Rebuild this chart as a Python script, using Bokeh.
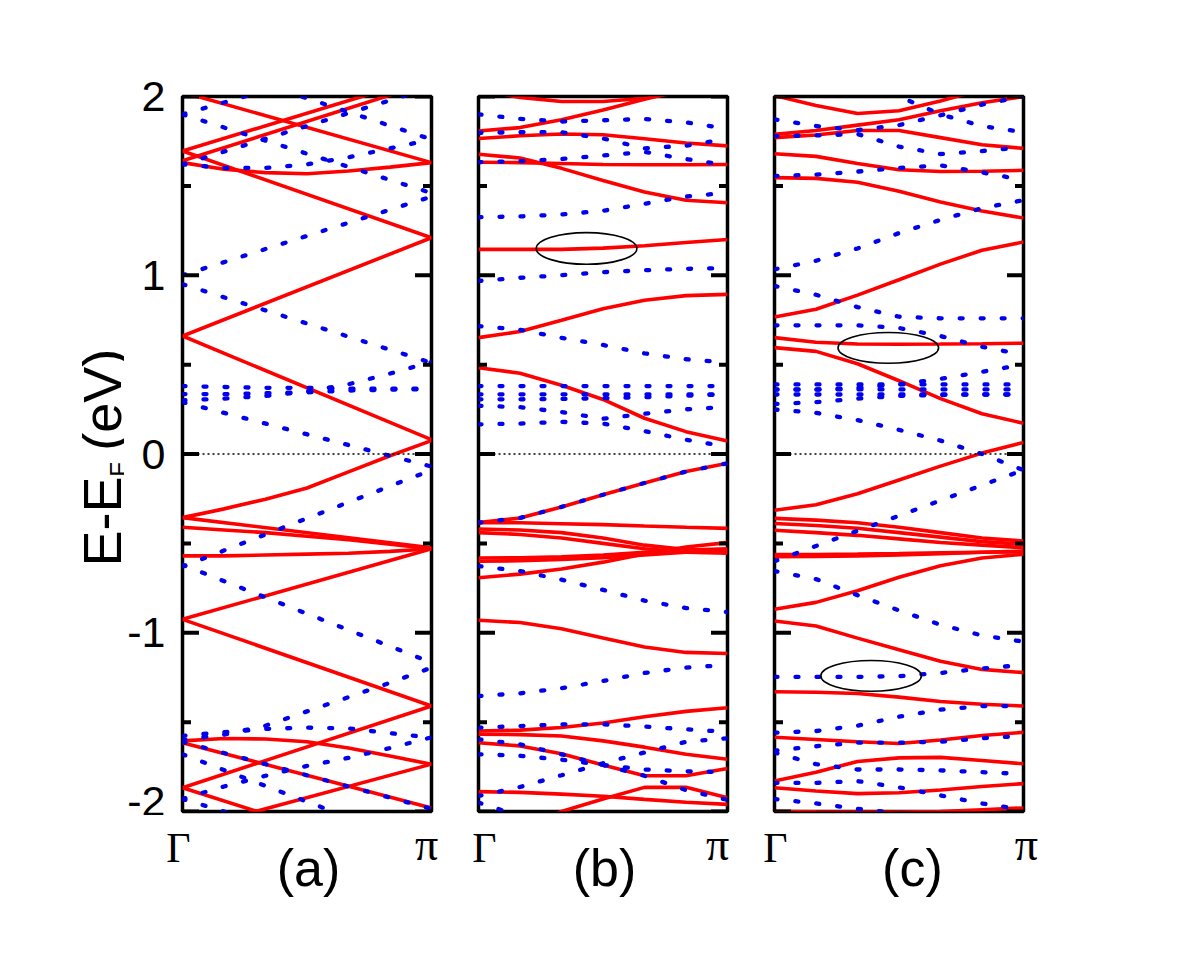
import numpy as np
from bokeh.plotting import figure
from bokeh.layouts import row, column
from bokeh.models import Range1d, FixedTicker, Span
from bokeh.core.properties import value
from bokeh.embed import file_html
from bokeh.resources import INLINE

# ---------------- data: band energies (eV) sampled evenly from Gamma (k=0) to pi (k=1)
A_RED = [
    [2.024, 1.63],
    [1.695, 2.118],
    [1.64, 2.081],
    [1.695, 1.21],
    [1.63, 1.593, 1.574, 1.568, 1.583, 1.605, 1.63],
    [0.66, 1.21],
    [0.66, 0.08],
    [-0.356, -0.307, -0.253, -0.19, -0.10, -0.01, 0.075],
    [-0.356, -0.524],
    [-0.41, -0.425, -0.44, -0.46, -0.48, -0.505, -0.53],
    [-0.57, -0.57, -0.565, -0.56, -0.555, -0.545, -0.53],
    [-0.925, -0.53],
    [-0.925, -1.41],
    [-1.867, -1.41],
    [-1.867, -2.31],
    [-2.11, -1.735],
    [-1.605, -1.592, -1.594, -1.61, -1.645, -1.69, -1.736],
    [-1.615, -1.98],
]
A_BLUE = [
    [1.90, 2.30],
    [1.90, 1.46],
    [1.62, 2.05],
    [2.22, 1.76],
    [1.62, 1.60, 1.60, 1.62, 1.66, 1.71, 1.76],
    [1.0, 1.44],
    [0.95, 0.51],
    [0.30, 0.31, 0.325, 0.35, 0.39, 0.45, 0.515],
    [0.38, 0.375, 0.37, 0.37, 0.365, 0.365, 0.365],
    [0.335, 0.335, 0.34, 0.345, 0.355, 0.36, 0.362],
    [0.29, -0.07],
    [-0.63, -0.09],
    [-0.62, -1.167],
    [-1.60, -1.57, -1.52, -1.44, -1.36, -1.28, -1.195],
    [-1.577, -1.556, -1.538, -1.531, -1.535, -1.562, -1.587],
    [-1.61, -1.985],
    [-1.68, -2.21],
    [-1.93, -1.86, -1.80, -1.745, -1.70, -1.645, -1.585],
    [-1.93, -2.35],
]

B_RED = [
    [2.04, 1.995, 1.972, 1.972, 1.99, 2.03, 2.07],
    [1.807, 1.826, 1.87, 1.925, 1.985, 2.04, 2.09],
    [1.765, 1.78, 1.79, 1.786, 1.764, 1.74, 1.724],
    [1.677, 1.656, 1.598, 1.53, 1.466, 1.42, 1.406],
    [1.632, 1.63, 1.625, 1.62, 1.618, 1.618, 1.62],
    [1.145, 1.145, 1.145, 1.152, 1.165, 1.183, 1.20],
    [0.651, 0.685, 0.748, 0.812, 0.86, 0.886, 0.893],
    [0.483, 0.452, 0.385, 0.305, 0.20, 0.125, 0.073],
    [-0.384, -0.358, -0.296, -0.228, -0.162, -0.098, -0.052],
    [-0.384, -0.385, -0.39, -0.395, -0.403, -0.41, -0.416],
    [-0.42, -0.425, -0.44, -0.47, -0.51, -0.535, -0.54],
    [-0.44, -0.45, -0.47, -0.50, -0.53, -0.55, -0.555],
    [-0.582, -0.58, -0.575, -0.565, -0.55, -0.537, -0.53],
    [-0.60, -0.597, -0.59, -0.58, -0.565, -0.55, -0.545],
    [-0.692, -0.672, -0.643, -0.605, -0.56, -0.52, -0.496],
    [-0.93, -0.943, -0.978, -1.03, -1.08, -1.11, -1.116],
    [-1.55, -1.545, -1.53, -1.505, -1.47, -1.44, -1.42],
    [-1.568, -1.57, -1.578, -1.605, -1.64, -1.68, -1.708],
    [-1.615, -1.633, -1.677, -1.74, -1.80, -1.80, -1.76],
    [-2.2, -2.1, -2.0, -1.93, -1.865, -1.865, -1.923],
    [-1.889, -1.893, -1.903, -1.915, -1.932, -1.948, -1.96],
]
B_BLUE = [
    [1.90, 1.875, 1.86, 1.867, 1.874, 1.855, 1.82],
    [1.797, 1.80, 1.80, 1.765, 1.71, 1.725, 1.764],
    [1.633, 1.638, 1.65, 1.67, 1.69, 1.65, 1.615],
    [1.325, 1.329, 1.34, 1.361, 1.40, 1.44, 1.462],
    [0.968, 0.986, 1.0, 1.017, 1.028, 1.036, 1.04],
    [0.716, 0.695, 0.65, 0.61, 0.563, 0.53, 0.511],
    [0.38, 0.38],
    [0.334, 0.334],
    [0.306, 0.306, 0.308, 0.312, 0.318, 0.326, 0.334],
    [0.27, 0.262, 0.235, 0.197, 0.225, 0.25, 0.263],
    [0.166, 0.17, 0.18, 0.17, 0.128, 0.08, 0.04],
    [-0.384, -0.358, -0.296, -0.228, -0.162, -0.098, -0.052],
    [-0.627, -0.655, -0.703, -0.76, -0.82, -0.862, -0.884],
    [-1.354, -1.339, -1.31, -1.27, -1.225, -1.195, -1.18],
    [-1.531, -1.522, -1.513, -1.512, -1.525, -1.54, -1.555],
    [-1.596, -1.624, -1.68, -1.74, -1.80, -1.88, -1.935],
    [-1.68, -1.688, -1.71, -1.74, -1.765, -1.775, -1.78],
    [-1.913, -1.863, -1.797, -1.73, -1.67, -1.61, -1.59],
    [-1.95, -2.4],
]

C_RED = [
    [2.005, 1.95, 1.905, 1.92, 1.975, 2.04, 2.1],
    [1.788, 1.81, 1.84, 1.87, 1.92, 1.965, 2.0],
    [1.77, 1.785, 1.81, 1.81, 1.77, 1.73, 1.71],
    [1.68, 1.665, 1.625, 1.59, 1.58, 1.582, 1.587],
    [1.546, 1.542, 1.52, 1.47, 1.41, 1.36, 1.32],
    [0.766, 0.81, 0.889, 0.975, 1.062, 1.14, 1.186],
    [0.651, 0.625, 0.615, 0.614, 0.615, 0.617, 0.62],
    [0.595, 0.574, 0.505, 0.41, 0.31, 0.225, 0.172],
    [-0.315, -0.284, -0.222, -0.145, -0.068, 0.005, 0.065],
    [-0.36, -0.37, -0.385, -0.41, -0.44, -0.47, -0.487],
    [-0.389, -0.40, -0.415, -0.44, -0.465, -0.49, -0.505],
    [-0.427, -0.44, -0.455, -0.475, -0.495, -0.51, -0.524],
    [-0.575, -0.573, -0.57, -0.565, -0.558, -0.55, -0.543],
    [-0.563, -0.562, -0.56, -0.557, -0.553, -0.55, -0.548],
    [-0.869, -0.83, -0.765, -0.69, -0.625, -0.582, -0.561],
    [-0.934, -0.962, -1.03, -1.095, -1.16, -1.205, -1.223],
    [-1.33, -1.333, -1.34, -1.36, -1.385, -1.40, -1.41],
    [-1.585, -1.597, -1.61, -1.62, -1.60, -1.575, -1.557],
    [-1.829, -1.78, -1.72, -1.70, -1.697, -1.715, -1.733],
    [-1.867, -1.885, -1.9, -1.895, -1.88, -1.86, -1.844],
    [-2.0, -2.002, -2.003, -2.003, -2.0, -1.99, -1.98],
]
C_BLUE = [
    [1.872, 1.835, 1.812, 1.84, 1.895, 1.955, 2.0],
    [2.3, 2.2, 2.1, 2.0, 1.9, 1.835, 1.80],
    [1.778, 1.782, 1.79, 1.72, 1.678, 1.695, 1.717],
    [1.555, 1.563, 1.58, 1.60, 1.615, 1.575, 1.533],
    [1.033, 1.081, 1.15, 1.236, 1.31, 1.375, 1.42],
    [0.94, 0.891, 0.822, 0.768, 0.759, 0.759, 0.759],
    [0.72, 0.72, 0.72, 0.705, 0.66, 0.60, 0.555],
    [0.36, 0.36, 0.37, 0.39, 0.42, 0.46, 0.50],
    [0.389, 0.389],
    [0.361, 0.361],
    [0.333, 0.333],
    [0.28, 0.29, 0.31, 0.325, 0.33, 0.333, 0.333],
    [0.249, 0.23, 0.19, 0.135, 0.075, 0.0, -0.09],
    [-0.60, -0.09],
    [-0.655, -0.70, -0.79, -0.875, -0.955, -1.015, -1.05],
    [-1.247, -1.247, -1.247, -1.243, -1.225, -1.20, -1.18],
    [-1.559, -1.55, -1.52, -1.47, -1.43, -1.41, -1.41],
    [-1.66, -1.635, -1.615, -1.615, -1.61, -1.59, -1.577],
    [-1.67, -1.735, -1.765, -1.765, -1.77, -1.78, -1.79],
    [-1.84, -1.84, -1.83, -1.865, -1.91, -1.955, -1.99],
    [-1.93, -1.955, -1.985, -2.01, -2.03, -2.04, -2.05],
]

# ellipse marks: (k centre, E centre, k width, E height)
B_ELLIPSES = [(0.434, 1.15, 0.404, 0.177)]
C_ELLIPSES = [(0.457, 0.594, 0.404, 0.172), (0.388, -1.241, 0.404, 0.172)]

PANEL_NAMES = ["(a)", "(b)", "(c)"]
Y_TICKS = [-2, -1, 0, 1, 2]
Y_TICK_LABELS = ["-2", "-1", "0", "1", "2"]
Y_MINOR = [-1.5, -0.5, 0.5, 1.5]
GAMMA_K = [-0.008, 0.032, 0.012]
PI_K = [0.988, 0.968, 1.02]
NAME_K = [0.514, 0.514, 0.562]
Y_TITLE = ["E-E", "F", "(eV)"]

RED = "#ff0000"
BLUE = "#0000ee"

# ---------------- layout constants (pixels)
FRAME_W, FRAME_H = 249, 715
TOP, BOTTOM = 96, 4
TITLE_W = 124
LEFT_A, LEFT_BC, RIGHT = 56, 24, 23
STRIP_H = 120


def make_panel(red, blue, ellipses, idx):
    left = LEFT_A if idx == 0 else LEFT_BC
    p = figure(frame_width=FRAME_W, frame_height=FRAME_H,
               x_range=Range1d(0, 1), y_range=Range1d(-2, 2),
               output_backend="svg", toolbar_location=None,
               x_axis_location=None,
               y_axis_location="left" if idx == 0 else None,
               min_border_left=left, min_border_right=RIGHT,
               min_border_top=TOP, min_border_bottom=BOTTOM,
               background_fill_color="white", border_fill_color="white")
    p.xgrid.visible = False
    p.ygrid.visible = False
    p.outline_line_color = "black"
    p.outline_line_width = 3.5

    p.add_layout(Span(location=0, dimension="width", line_color="black",
                      line_width=1.3, line_dash="2 3"))

    for band in red:
        k = np.linspace(0, 1, len(band))
        p.line(k, band, line_color=RED, line_width=3.6)
    for band in blue:
        k = np.linspace(0, 1, len(band))
        p.line(k, band, line_color=BLUE, line_width=4.3, line_dash="3 18",
               line_cap="round")

    if ellipses:
        p.ellipse(x=[e[0] for e in ellipses], y=[e[1] for e in ellipses],
                  width=[e[2] for e in ellipses], height=[e[3] for e in ellipses],
                  fill_color=None, line_color="black", line_width=1.6)

    # inward ticks on both sides (half of each dash lies outside the frame and is clipped)
    for xe in (p.x_range.start, p.x_range.end):
        p.scatter([xe] * len(Y_TICKS), Y_TICKS, marker="dash", size=33,
                  line_color="black", line_width=4)
        p.scatter([xe] * len(Y_MINOR), Y_MINOR, marker="dash", size=17,
                  line_color="black", line_width=4)

    if idx == 0:
        ax = p.yaxis[0]
        ax.ticker = FixedTicker(ticks=Y_TICKS, minor_ticks=[])
        ax.major_label_overrides = {t: s for t, s in zip(Y_TICKS, Y_TICK_LABELS)}
        ax.axis_line_color = None
        ax.major_tick_in = 0
        ax.major_tick_out = 0
        ax.minor_tick_in = 0
        ax.minor_tick_out = 0
        ax.major_tick_line_color = None
        ax.minor_tick_line_color = None
        ax.major_label_text_font = "Liberation Sans"
        ax.major_label_text_font_size = "43px"
        ax.major_label_text_color = "black"
        ax.major_label_standoff = 17
    return p


# y-axis title (rotated, with subscript F)
tp = figure(frame_width=TITLE_W, frame_height=FRAME_H,
            x_range=Range1d(0, TITLE_W), y_range=Range1d(-2, 2),
            output_backend="svg", toolbar_location=None,
            x_axis_location=None, y_axis_location=None,
            min_border_left=0, min_border_right=0,
            min_border_top=TOP, min_border_bottom=BOTTOM,
            outline_line_color=None)
tp.xgrid.visible = False
tp.ygrid.visible = False
tp.text(x=[101, 118, 101], y=[-0.63, -0.127, 0.018], text=Y_TITLE,
        text_font_size=["54px", "24px", "54px"],
        angle=np.pi / 2, text_align="left", text_baseline="alphabetic",
        text_font=value("Liberation Sans"), text_color="black")

pa = make_panel(A_RED, A_BLUE, [], 0)
pb = make_panel(B_RED, B_BLUE, B_ELLIPSES, 1)
pc = make_panel(C_RED, C_BLUE, C_ELLIPSES, 2)

# bottom strip with k-point labels and panel names
frame_left = [TITLE_W + LEFT_A]
frame_left.append(frame_left[0] + FRAME_W + RIGHT + LEFT_BC)
frame_left.append(frame_left[1] + FRAME_W + RIGHT + LEFT_BC)
total_w = TITLE_W + (LEFT_A + FRAME_W + RIGHT) + 2 * (LEFT_BC + FRAME_W + RIGHT)

sp = figure(frame_width=total_w, frame_height=STRIP_H,
            x_range=Range1d(0, total_w), y_range=Range1d(STRIP_H, 0),
            output_backend="svg", toolbar_location=None,
            x_axis_location=None, y_axis_location=None,
            min_border_left=0, min_border_right=0,
            min_border_top=0, min_border_bottom=0,
            outline_line_color=None)
sp.xgrid.visible = False
sp.ygrid.visible = False
gx = [fl + k * FRAME_W for fl, k in zip(frame_left, GAMMA_K)]
px_ = [fl + k * FRAME_W for fl, k in zip(frame_left, PI_K)]
nx = [fl + k * FRAME_W for fl, k in zip(frame_left, NAME_K)]
sp.text(x=gx, y=[32] * 3, text=["Γ"] * 3, text_align="center",
        text_baseline="alphabetic", text_font=value("Liberation Serif"),
        text_font_size=value("42px"), text_color="black")
sp.text(x=px_, y=[29] * 3, text=["π"] * 3, text_align="center",
        text_baseline="alphabetic", text_font=value("Liberation Serif"),
        text_font_size=value("46px"), text_color="black")
sp.text(x=nx, y=[52] * 3, text=PANEL_NAMES, text_align="center",
        text_baseline="alphabetic", text_font=value("Liberation Sans"),
        text_font_size=value("52px"), text_color="black")

layout = column(row(tp, pa, pb, pc), sp)
open("out.html", "w").write(file_html(layout, INLINE))
